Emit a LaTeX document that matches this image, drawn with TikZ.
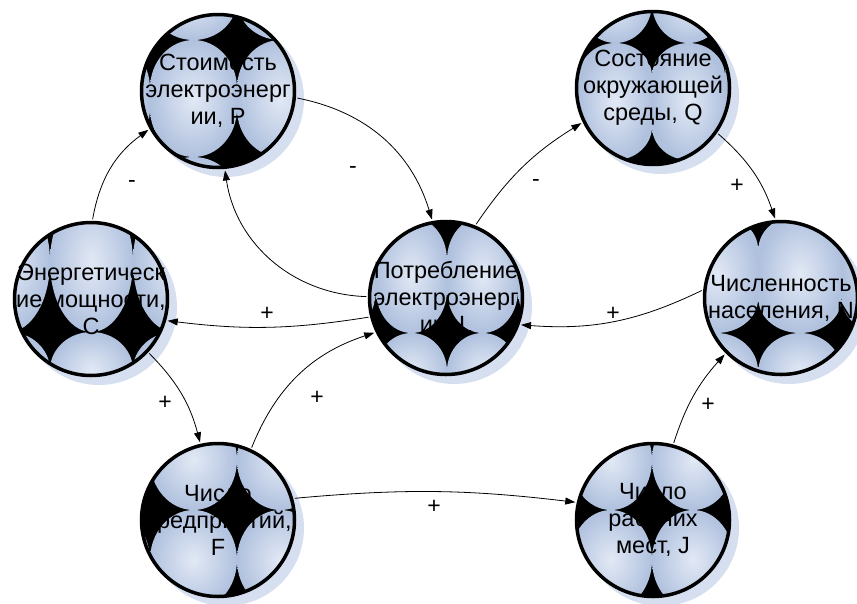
\documentclass[tikz,border=0pt]{standalone}
\usepackage{fontspec}
\setmainfont{Liberation Sans}
\usetikzlibrary{arrows.meta,backgrounds}

\definecolor{tilein}{RGB}{226,233,245}
\definecolor{tileout}{RGB}{176,193,222}
\definecolor{shadowblue}{RGB}{213,223,240}

% one light tile of a node: x, y, half width, half straight side, cap
\newcommand{\filltile}[5]{%
  \shade[inner color=tilein, outer color=tileout]
    (#1-#3, #2-#4) -- (#1-#3, #2+#4)
    arc[start angle=180, end angle=0, x radius=#3, y radius=#5]
    -- (#1+#3, #2-#4)
    arc[start angle=0, end angle=-180, x radius=#3, y radius=#5] -- cycle;}

% shadow, black ground and tiles of a node: node, half width, columns, rows
\newcommand{\nodefill}[4]{%
  \begin{scope}[shift={(#1.center)}]
    \fill[shadowblue] (8,8) circle (78);
    \clip (0,0) circle (77);
    \fill[black] (-80,-80) rectangle (80,80);
    \foreach \py/\ph/\pc in {#4}
    {
      \foreach \px in {#3}
      {
        \filltile{\px}{\py}{#2}{\ph}{\pc}
      }
    }
  \end{scope}}

\tikzset{
  factor/.style={circle, draw=black, line width=3.5pt, minimum size=153pt, inner sep=0pt},
  factortext/.style={align=center, inner sep=0pt, font=\fontsize{23.5}{27}\selectfont},
  link/.style={line width=0.8pt, -{Triangle[length=10pt,width=7pt]}, shorten >=1.5pt, shorten <=1.5pt},
  sign/.style={inner sep=0pt, font=\fontsize{23}{27}\selectfont}
}

\begin{document}
\begin{tikzpicture}[x=1pt, y=-1pt]
\useasboundingbox (0,0) rectangle (857,603);

\node[factor, label={[factortext]center:{Стоимость\\электроэнерг\\ии, P}}] (P) at (218,91) {};
\node[factor, label={[factortext]center:{Потребление\\электроэнерг\\ии, L}}] (L) at (446,298) {};
\node[factor, label={[factortext]center:{Энергетическ\\ие мощности,\\C}}] (C) at (91,299) {};
\node[factor, label={[factortext]center:{Состояние\\окружающей\\среды, Q}}] (Q) at (653,88) {};
\node[factor, label={[factortext]center:{Численность\\населения, N}}] (N) at (781,298) {};
\node[factor, label={[factortext]center:{Число\\предприятий,\\F}}] (F) at (218,520) {};
\node[factor, label={[factortext]center:{Число\\рабочих\\мест, J}}] (J) at (653,520) {};

\begin{pgfonlayer}{background}
\nodefill{P}{43.5}{-111.5,-24.5,62.5}{-91/0/40, 106/0/40, 7.5/10/48.5}
\nodefill{L}{35.5}{-105.5,-34.5,36.5,107.5}{-23/15/43, 73/0/38}
\nodefill{C}{41.5}{-82.5,0.5,83.5}{-37/0/70, 71/0/38}
\nodefill{Q}{36.5}{-110.5,-37.5,35.5,108.5}{-85/0/40, 112/0/40, 13.5/25/33.5}
\nodefill{N}{41.5}{-64.5,19,102.5}{-24/25/34, 73/0/38}
\nodefill{F}{43.5}{-111.5,-24.5,62.5}{-60/0/50, 40/0/50}
\nodefill{J}{41}{-124,-42,40,122}{-60/0/50, 40/0/50}
\end{pgfonlayer}

% links
\draw[link] (C.89) to[bend left=22] (P.209);
\draw[link] (P.-5) to[bend left=31] (L.100);
\draw[link] (L.179) to[bend left=40] (P.-85);
\draw[link] (L.194) to[bend left=8] (C.-16);
\draw[link] (C.-43) to[bend left=15] (F.103);
\draw[link] (F.65) to[bend left=25] (L.206);
\draw[link] (L.68) to[bend left=12] (Q.206);
\draw[link] (Q.-35) to[bend left=15] (N.94);
\draw[link] (N.174) to[bend left=15] (L.-20);
\draw[link] (F.16) to[bend left=6] (J.167);
\draw[link] (J.75) to[bend left=12] (N.225);

% signs
\node[sign] (sCP) at (132,184) {-};
\node[sign] (sPL) at (353,170) {-};
\node[sign] (sLC) at (267,314) {+};
\node[sign] (sCF) at (165,403) {+};
\node[sign] (sFL) at (317,398) {+};
\node[sign] (sLQ) at (536,183) {-};
\node[sign] (sQN) at (737,186) {+};
\node[sign] (sNL) at (613,314) {+};
\node[sign] (sFJ) at (434,507) {+};
\node[sign] (sJN) at (708,405) {+};

\end{tikzpicture}
\end{document}
